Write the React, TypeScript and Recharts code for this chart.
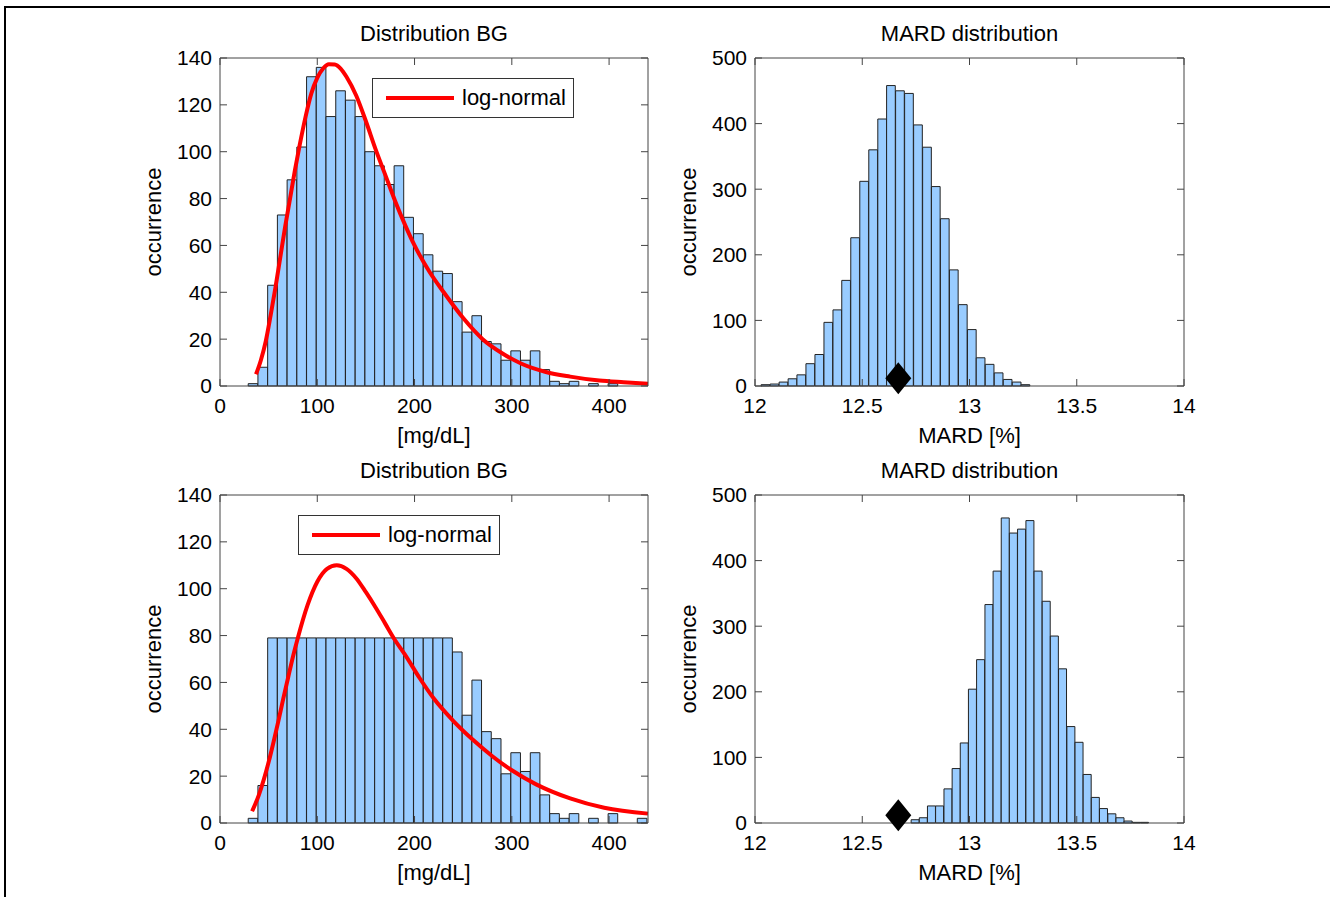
import { ComposedChart, Bar, Line, Scatter, XAxis, YAxis, Legend } from "recharts";

const FONT = '"Liberation Sans", Arial, Helvetica, sans-serif';
const AXIS = "#444";
const BAR_FILL = "#99ccff";

// BG histograms (bin centres, mg/dL)
const bgBins = [
  34, 44, 54, 64, 74, 84, 94, 104, 114, 124, 134, 144, 154, 164, 174, 184, 194, 204, 214, 224, 234,
  244, 254, 264, 274, 284, 294, 304, 314, 324, 334, 344, 354, 364, 374, 384, 394, 404, 414, 424, 434,
];
const bgCountsTop = [
  1, 8, 43, 73, 88, 102, 132, 136, 115, 126, 122, 115, 100, 94, 86, 94, 72, 65, 56, 49, 48,
  36, 23, 30, 19, 18, 11, 15, 11, 15, 7, 2, 1, 2, 0, 1, 0, 1, 0, 0, 0,
];
const bgCountsBottom = [
  2, 16, 79, 79, 79, 79, 79, 79, 79, 79, 79, 79, 79, 79, 79, 79, 79, 79, 79, 79, 79,
  73, 46, 61, 39, 36, 21, 30, 22, 30, 12, 4, 2, 4, 0, 2, 0, 4, 0, 0, 2,
];

// log-normal fit curves
const fitXTop = [37, 42, 47, 52, 57, 62, 67, 72, 77, 82, 88, 94, 100, 106, 112, 118, 124, 130, 140, 150, 160, 170, 180, 190, 200, 215, 230, 250, 270, 290, 310, 335, 360, 390, 415, 440];
const fitYTop = [5, 11, 19, 30, 42, 55, 68, 80, 92, 103, 115, 125, 131.5, 135.5, 137.3, 137.2, 135.5, 132, 124, 113, 101, 90, 79, 69, 60, 49, 40, 29, 20, 14, 9.5, 6, 4, 2.3, 1.6, 1];
const fitXBottom = [33, 40, 45, 50, 55, 60, 65, 70, 75, 80, 90, 100, 110, 120, 130, 140, 150, 160, 170, 180, 190, 205, 220, 240, 260, 280, 300, 325, 360, 395, 440];
const fitYBottom = [5, 12, 18.5, 26, 34.5, 43.5, 53, 62, 71, 79, 93, 103, 108.5, 110, 108.5, 104.5, 98.5, 92, 85, 78, 72, 62, 53, 43.5, 35.5, 28.5, 22.5, 16.5, 10.5, 6.5, 4];

// MARD histograms (bin centres, %)
const mardBinsTop = [
  12.049, 12.091, 12.133, 12.175, 12.216, 12.258, 12.3, 12.342, 12.384, 12.425, 12.467, 12.509, 12.551, 12.593, 12.634,
  12.676, 12.718, 12.76, 12.802, 12.843, 12.885, 12.927, 12.969, 13.011, 13.052, 13.094, 13.136, 13.178, 13.22, 13.261,
];
const mardCountsTop = [
  2, 3, 6, 11, 17, 34, 48, 97, 116, 161, 226, 312, 360, 407, 458,
  450, 446, 398, 364, 304, 255, 177, 124, 86, 43, 33, 20, 10, 6, 2,
];
const mardBinsBottom = [
  12.747, 12.785, 12.823, 12.861, 12.9, 12.938, 12.976, 13.014, 13.052, 13.091, 13.129, 13.167, 13.205, 13.243, 13.282,
  13.32, 13.358, 13.396, 13.434, 13.473, 13.511, 13.549, 13.587, 13.625, 13.664, 13.702, 13.74, 13.778, 13.816,
];
const mardCountsBottom = [
  5, 8, 26, 26, 52, 83, 122, 204, 249, 333, 384, 465, 442, 448, 461,
  384, 338, 285, 235, 147, 123, 74, 39, 22, 14, 8, 3, 1, 1,
];
const mardRefX = [12.668];
const mardRefY = [12];

const bgTicksX = [0, 100, 200, 300, 400];
const bgTicksY = [0, 20, 40, 60, 80, 100, 120, 140];
const mardTicksX = [12, 12.5, 13, 13.5, 14];
const mardTicksY = [0, 100, 200, 300, 400, 500];

type Pt = { x: number; y: number };

const zipPts = (xs: number[], ys: number[]): Pt[] => xs.map((x, i) => ({ x, y: ys[i] }));
const zipBars = (xs: number[], ns: number[]) => xs.map((x, i) => ({ x, n: ns[i] }));

const Diamond = (p: any) => (
  <polygon
    points={`${p.cx},${p.cy - 16} ${p.cx + 13},${p.cy} ${p.cx},${p.cy + 16} ${p.cx - 13},${p.cy}`}
    fill="#000"
  />
);

const OccLabel = (props: any) => {
  const vb = props.viewBox;
  const x = vb.x + 1;
  const y = vb.y + vb.height / 2;
  return (
    <text x={x} y={y} transform={`rotate(-90, ${x}, ${y})`} textAnchor="middle" fill="#000" fontSize={22} fontFamily={FONT}>
      occurrence
    </text>
  );
};

const FitLegend = () => (
  <div
    style={{
      width: 202,
      height: 40,
      boxSizing: "border-box",
      border: "1px solid #333",
      background: "#fff",
      display: "flex",
      alignItems: "center",
      fontFamily: FONT,
      fontSize: 22,
      color: "#000",
    }}
  >
    <div style={{ width: 68, height: 4, background: "#ff0000", marginLeft: 13, marginRight: 8 }} />
    <span>log-normal</span>
  </div>
);

interface PanelProps {
  left: number;
  top: number;
  plotW: number;
  title: string;
  xLabel: string;
  xDomain: [number, number];
  yDomain: [number, number];
  xTicks: number[];
  yTicks: number[];
  bars: { x: number; n: number }[];
  barSize: number;
  fit?: Pt[];
  marker?: Pt[];
  legendAt?: { left: number; top: number };
}

const tickStyle = { fill: "#000", fontSize: 21, fontFamily: FONT };

const Panel = ({ left, top, plotW, title, xLabel, xDomain, yDomain, xTicks, yTicks, bars, barSize, fit, marker, legendAt }: PanelProps) => {
  return (
    <div style={{ position: "absolute", left: left - 100, top: top - 48 }}>
      <ComposedChart width={plotW + 132} height={450} data={bars} margin={{ top: 47, right: 31, bottom: 34, left: 40 }}>
        <XAxis
          xAxisId="b"
          dataKey="x"
          type="number"
          domain={xDomain}
          ticks={xTicks}
          interval={0}
          height={40}
          tickSize={-7}
          tickMargin={19}
          stroke={AXIS}
          tick={tickStyle}
          label={{ value: xLabel, position: "bottom", offset: 1, fill: "#000", fontSize: 22, fontFamily: FONT }}
        />
        <XAxis
          xAxisId="t"
          orientation="top"
          dataKey="x"
          type="number"
          domain={xDomain}
          ticks={xTicks}
          interval={0}
          height={1}
          tickSize={-7}
          tickFormatter={() => ""}
          stroke={AXIS}
          label={{ value: title, position: "top", offset: 16, fill: "#000", fontSize: 22, fontFamily: FONT }}
        />
        <YAxis
          yAxisId="l"
          type="number"
          domain={yDomain}
          ticks={yTicks}
          interval={0}
          width={60}
          tickSize={-7}
          tickMargin={15}
          stroke={AXIS}
          tick={tickStyle}
          label={OccLabel}
        />
        <YAxis
          yAxisId="r"
          orientation="right"
          type="number"
          domain={yDomain}
          ticks={yTicks}
          interval={0}
          width={1}
          tickSize={-7}
          tickFormatter={() => ""}
          stroke={AXIS}
        />
        <Bar xAxisId="b" yAxisId="l" dataKey="n" fill={BAR_FILL} stroke="#222" strokeWidth={1} barSize={barSize} isAnimationActive={false} />
        {fit && (
          <Line
            xAxisId="t"
            yAxisId="r"
            data={fit}
            dataKey="y"
            type="monotone"
            stroke="#ff0000"
            strokeWidth={4}
            dot={false}
            isAnimationActive={false}
          />
        )}
        {marker && <Scatter xAxisId="t" yAxisId="r" data={marker} dataKey="y" shape={Diamond} isAnimationActive={false} />}
        {legendAt && (
          <Legend
            layout="horizontal"
            verticalAlign="middle"
            align="center"
            content={FitLegend}
            wrapperStyle={{ left: legendAt.left - (left - 100), top: legendAt.top - (top - 48), width: 202, height: 40 }}
          />
        )}
      </ComposedChart>
    </div>
  );
};

export default function App() {
  return (
    <div style={{ position: "absolute", left: 0, top: 0, width: 1330, height: 897, background: "#fff", overflow: "hidden" }}>
      <div
        style={{ position: "absolute", left: 4, top: 6, width: 1340, height: 900, borderTop: "2px solid #000", borderLeft: "2px solid #000" }}
      />
      <Panel
        left={220}
        top={58}
        plotW={428}
        title="Distribution BG"
        xLabel="[mg/dL]"
        xDomain={[0, 440]}
        yDomain={[0, 140]}
        xTicks={bgTicksX}
        yTicks={bgTicksY}
        bars={zipBars(bgBins, bgCountsTop)}
        barSize={9.6}
        fit={zipPts(fitXTop, fitYTop)}
        legendAt={{ left: 372, top: 78 }}
      />
      <Panel
        left={755}
        top={58}
        plotW={429}
        title="MARD distribution"
        xLabel="MARD [%]"
        xDomain={[12, 14]}
        yDomain={[0, 500]}
        xTicks={mardTicksX}
        yTicks={mardTicksY}
        bars={zipBars(mardBinsTop, mardCountsTop)}
        barSize={8.7}
        marker={zipPts(mardRefX, mardRefY)}
      />
      <Panel
        left={220}
        top={495}
        plotW={428}
        title="Distribution BG"
        xLabel="[mg/dL]"
        xDomain={[0, 440]}
        yDomain={[0, 140]}
        xTicks={bgTicksX}
        yTicks={bgTicksY}
        bars={zipBars(bgBins, bgCountsBottom)}
        barSize={9.6}
        fit={zipPts(fitXBottom, fitYBottom)}
        legendAt={{ left: 298, top: 515 }}
      />
      <Panel
        left={755}
        top={495}
        plotW={429}
        title="MARD distribution"
        xLabel="MARD [%]"
        xDomain={[12, 14]}
        yDomain={[0, 500]}
        xTicks={mardTicksX}
        yTicks={mardTicksY}
        bars={zipBars(mardBinsBottom, mardCountsBottom)}
        barSize={8.0}
        marker={zipPts(mardRefX, mardRefY)}
      />
    </div>
  );
}
